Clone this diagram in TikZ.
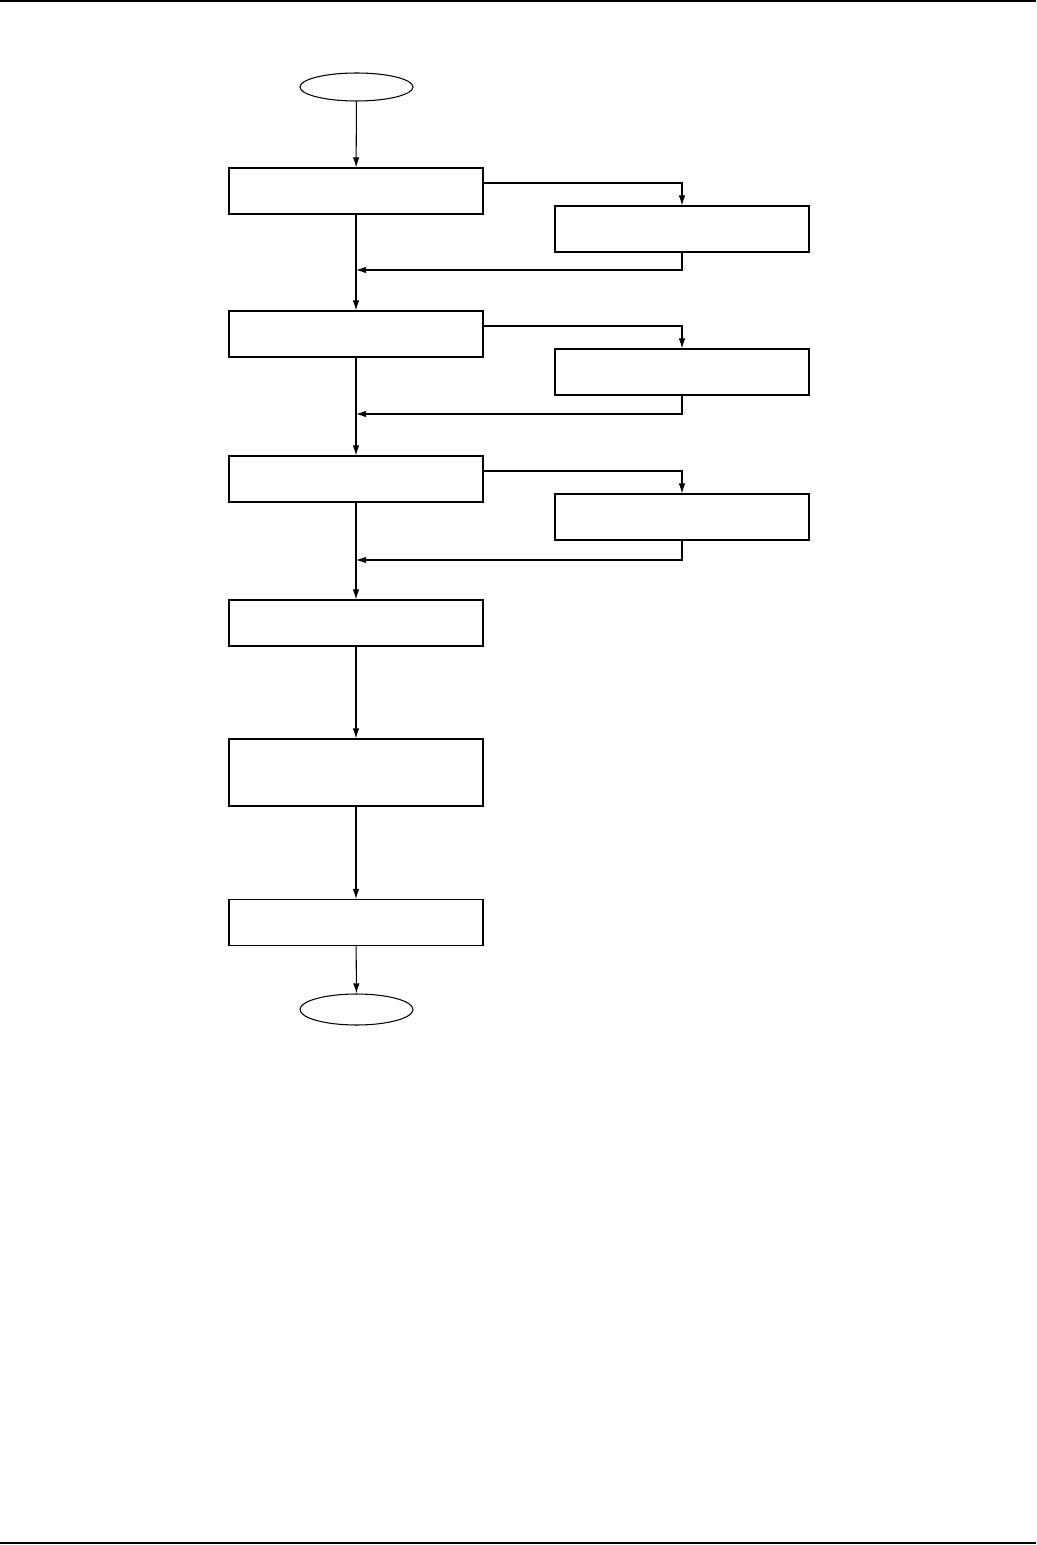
\documentclass[tikz,border=0pt]{standalone}
\usetikzlibrary{shapes.geometric,arrows.meta}
\begin{document}
\begin{tikzpicture}[>={Latex[length=2mm,width=1.3mm]}, line width=0.6pt,
    box/.style={draw, minimum width=5.08cm, minimum height=0.92cm, inner sep=0pt},
    term/.style={draw, ellipse, minimum width=2.26cm, minimum height=0.56cm, inner sep=0pt}]
\useasboundingbox (0,0) rectangle (20.72,-30.9);
\draw (0,-0.02)--(20.72,-0.02);
\draw (0,-30.86)--(20.72,-30.86);

\node[term] (start) at (7.13,-1.74){};
\node[box] (b1) at (7.12,-3.82){};
\node[box] (b2) at (7.12,-6.68){};
\node[box] (b3) at (7.12,-9.58){};
\node[box] (b4) at (7.12,-12.46){};
\node[box, minimum height=1.34cm] (b5) at (7.12,-15.45){};
\node[box] (b6) at (7.12,-18.45){};
\node[term, minimum height=0.62cm] (stop) at (7.13,-20.19){};

\node[box] (s1) at (13.64,-4.58){};
\node[box] (s2) at (13.64,-7.44){};
\node[box] (s3) at (13.64,-10.34){};

\coordinate (r1) at (7.12,-5.40);
\coordinate (r2) at (7.12,-8.28);
\coordinate (r3) at (7.12,-11.20);

\draw[->] (start)--(b1);
\foreach \i/\j in {1/2,2/3,3/4}
{
    \draw[->] (b\i)--(b\j);
    \draw[->] ([yshift=0.16cm]b\i.east) -| (s\i.north);
    \draw[->] (s\i.south) |- (r\i);
}
\draw[->] (b4)--(b5);
\draw[->] (b5)--(b6);
\draw[->] (b6)--(stop);
\end{tikzpicture}
\end{document}
